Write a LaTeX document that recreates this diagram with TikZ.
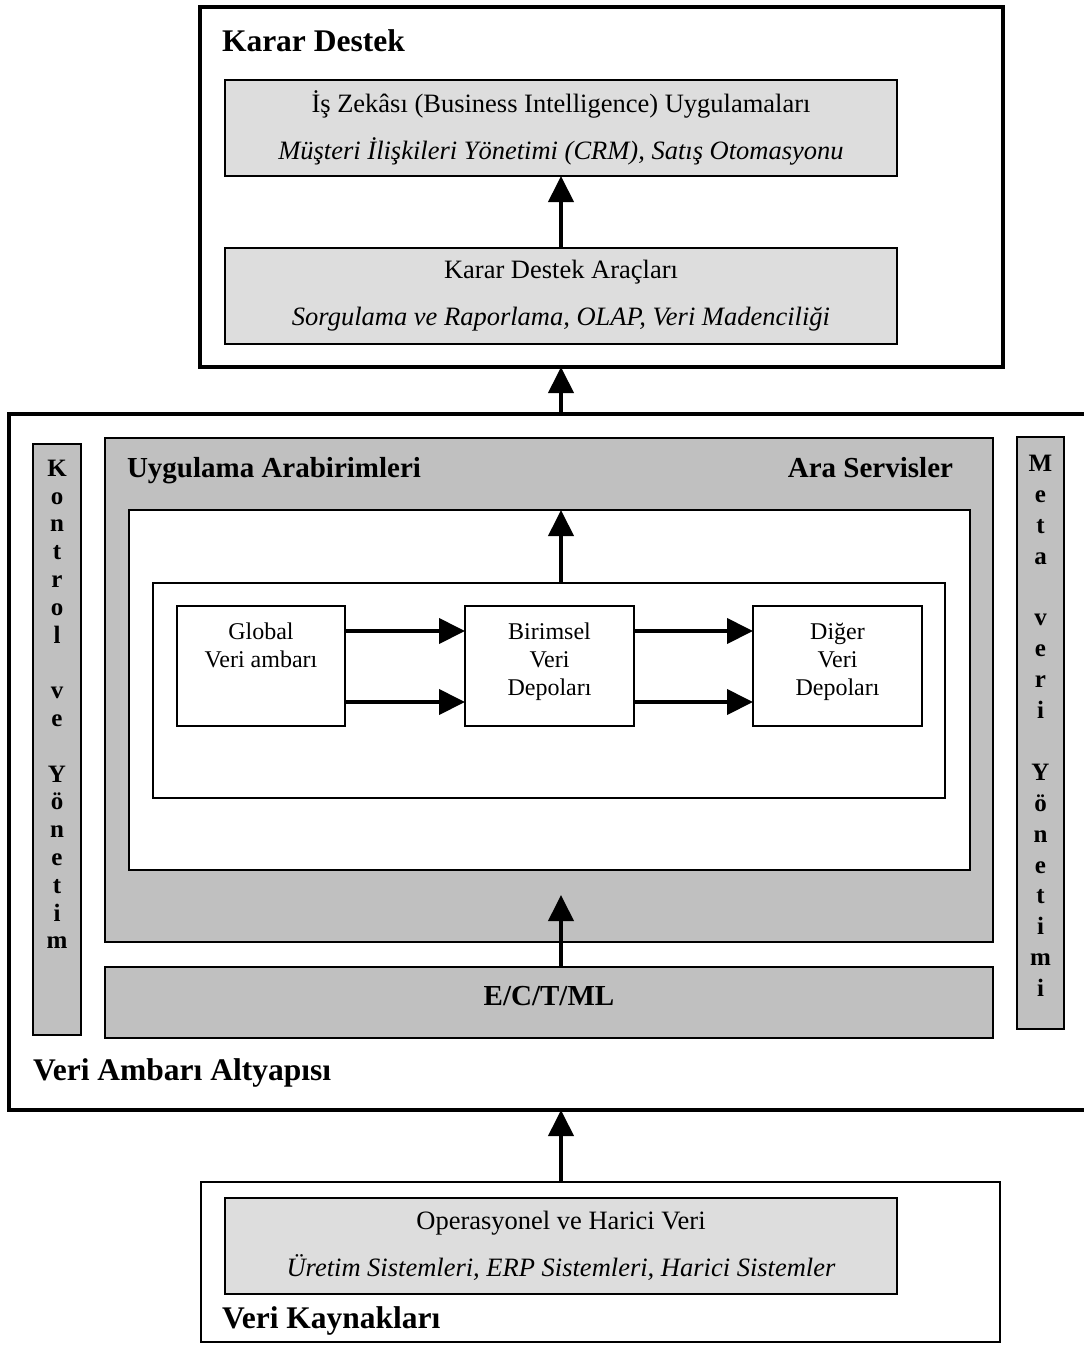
\documentclass[tikz,border=0pt]{standalone}
\usepackage{fontspec}
\setmainfont{Liberation Serif}
\usetikzlibrary{arrows.meta}
\definecolor{panelgray}{HTML}{C0C0C0}
\definecolor{lightpanel}{HTML}{DDDDDD}

\begin{document}
\begin{tikzpicture}[x=1pt,y=-1pt,
  every node/.style={inner sep=0pt, outer sep=0pt},
  sz/.style 2 args={minimum width=#1, minimum height=#2},
  heavyframe/.style={draw, line width=3.5pt, fill=white, anchor=north west},
  lightframe/.style={draw, line width=2pt, fill=white, anchor=north west},
  softbox/.style={draw, line width=2pt, fill=lightpanel, anchor=north west,
    align=center, font=\fontsize{26.5}{30}\selectfont},
  darkbox/.style={draw, line width=2pt, fill=panelgray, anchor=north west},
  whitebox/.style={draw, line width=2pt, fill=white, anchor=north west},
  headline/.style={font=\fontsize{31.5}{36}\selectfont\bfseries, anchor=base west},
  subhead/.style={font=\fontsize{29}{34}\selectfont\bfseries},
  storetext/.style={align=center, anchor=north, font=\fontsize{24}{28}\selectfont},
  coltext/.style={align=center, anchor=north},
  flow/.style={line width=4pt, -{Triangle[length=26pt,width=25pt]}}
]
\useasboundingbox (0,0) rectangle (1084,1352);
\fill[white] (0,0) rectangle (1084,1352);
\clip (0,0) rectangle (1084,1352);

% ---- Karar Destek layer ----
\node[heavyframe, sz={803}{360}] (kd) at (200,7) {};
\node[headline] (kdt) at (222,51) {Karar Destek};
\node[softbox, sz={672}{96}] (bi) at (225,80)
  {İş Zekâsı (Business Intelligence) Uygulamaları\\[17pt]
   \textit{Müşteri İlişkileri Yönetimi (CRM), Satış Otomasyonu}};
\node[softbox, sz={672}{96}] (kda) at (225,248)
  {Karar Destek Araçları\\[17pt]
   \textit{Sorgulama ve Raporlama, OLAP, Veri Madenciliği}};

% ---- Veri Ambarı Altyapısı layer ----
\node[heavyframe, sz={1100}{696}] (vaa) at (9,414) {};
\node[headline] (vaat) at (33,1080) {Veri Ambarı Altyapısı};

\node[darkbox, sz={48}{591}] (kon) at (33,444) {};
\node[coltext, font=\fontsize{25}{27.8}\selectfont\bfseries] (kont) at (57,460)
  {K\\o\\n\\t\\r\\o\\l\\{}\\v\\e\\{}\\Y\\ö\\n\\e\\t\\i\\m};

\node[darkbox, sz={47}{592}] (meta) at (1017,437) {};
\node[coltext, font=\fontsize{25}{30.9}\selectfont\bfseries] (metat) at (1040.5,455)
  {M\\e\\t\\a\\{}\\v\\e\\r\\i\\{}\\Y\\ö\\n\\e\\t\\i\\m\\i};

\node[darkbox, sz={888}{504}] (ara) at (105,438) {};
\node[subhead, anchor=base west] (uat) at (127,477) {Uygulama Arabirimleri};
\node[subhead, anchor=base east] (ast) at (953,477) {Ara Servisler};

\node[whitebox, sz={841}{360}] (app) at (129,510) {};
\node[whitebox, sz={792}{215}] (core) at (153,583) {};

\node[whitebox, sz={168}{120}] (glob) at (177,606) {};
\node[whitebox, sz={169}{120}] (bir) at (465,606) {};
\node[whitebox, sz={169}{120}] (dig) at (753,606) {};
\node[storetext] (globt) at ([yshift=-17pt]glob.north) {Global\\Veri ambarı};
\node[storetext] (birt) at ([yshift=-17pt]bir.north) {Birimsel\\Veri\\Depoları};
\node[storetext] (digt) at ([yshift=-17pt]dig.north) {Diğer\\Veri\\Depoları};

\node[darkbox, sz={888}{71}] (ectml) at (105,967) {};
\node[subhead, anchor=base] (ectmlt) at (549,1005) {E/C/T/ML};

% ---- Veri Kaynakları layer ----
\node[lightframe, sz={799}{160}] (vk) at (201,1182) {};
\node[softbox, sz={672}{96}] (ohv) at (225,1198)
  {Operasyonel ve Harici Veri\\[17pt]
   \textit{Üretim Sistemleri, ERP Sistemleri, Harici Sistemler}};
\node[headline] (vkt) at (222,1328) {Veri Kaynakları};

% ---- flows ----
\coordinate (ectip) at (561,895);
\draw[flow] (kda.north) -- (bi.south);
\draw[flow] (vaa.north -| kda.north) -- (kd.south -| kda.north);
\draw[flow] (core.north -| kda.north) -- (app.north -| kda.north);
\draw[flow] (ectml.north -| kda.north) -- (ectip);
\draw[flow] (vk.north -| kda.north) -- (vaa.south -| kda.north);

\draw[flow] ([yshift=-25pt]glob.north east) -- ([yshift=-25pt]bir.north west);
\draw[flow] ([yshift=24pt]glob.south east) -- ([yshift=24pt]bir.south west);
\draw[flow] ([yshift=-25pt]bir.north east) -- ([yshift=-25pt]dig.north west);
\draw[flow] ([yshift=24pt]bir.south east) -- ([yshift=24pt]dig.south west);
\end{tikzpicture}
\end{document}
